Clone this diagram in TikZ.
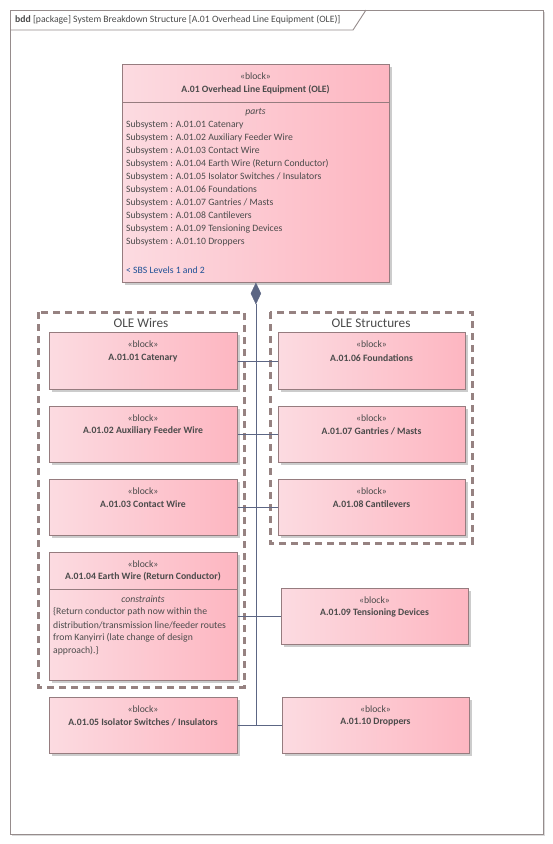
\documentclass[tikz,border=0pt]{standalone}
\usepackage{fontspec}
\setmainfont{Carlito}
\usetikzlibrary{shapes.geometric,shadows}
\definecolor{pinkL}{RGB}{252,219,225}
\definecolor{pinkR}{RGB}{253,182,193}
\definecolor{bordc}{RGB}{150,124,127}
\definecolor{txt}{RGB}{75,75,75}
\definecolor{conn}{RGB}{92,102,132}
\definecolor{grpc}{RGB}{150,130,129}
\definecolor{framec}{RGB}{150,140,140}
\definecolor{linkc}{RGB}{30,80,150}
\tikzset{
  blk/.style={draw=bordc, line width=0.8pt, left color=pinkL, right color=pinkR,
    anchor=north west, inner sep=0pt,
    drop shadow={shadow xshift=2.5pt, shadow yshift=-2.5pt, fill=black!20, opacity=1}},
  stereo/.style={font=\fontsize{9.7}{11}\selectfont, text=txt, inner sep=0pt},
  ttl/.style={font=\bfseries\fontsize{9.7}{11}\selectfont, text=txt, inner sep=0pt},
  body/.style={font=\fontsize{9.7}{11}\selectfont, text=txt, inner sep=0pt, anchor=west},
  grp/.style={draw=grpc, line width=3pt, dash pattern=on 7pt off 5pt},
  grpttl/.style={font=\fontsize{13.2}{15}\selectfont, text=txt, inner sep=0pt},
  wire/.style={draw=conn, line width=0.8pt},
}
\begin{document}
\begin{tikzpicture}[x=1pt,y=-1pt]
\useasboundingbox (0,0) rectangle (552,844);
% frame
\fill[black!15] (12,12) rectangle (545,836);
\draw[framec, line width=0.9pt, fill=white] (10,10) rectangle (543,834);
\draw[framec, line width=0.9pt] (10,30) -- (353,30) -- (366,10);
\node[anchor=west, inner sep=0pt, text=txt, font=\fontsize{9.7}{11}\selectfont] (hdr) at (15,20)
  {\textbf{bdd} [package] System Breakdown Structure [A.01 Overhead Line Equipment (OLE)]};

% groups
\draw[grp] (38,312) rectangle (244,687);
\node[grpttl] (gw) at (141,323) {OLE Wires};
\draw[grp] (270,312) rectangle (472,543);
\node[grpttl] (gs) at (371,323) {OLE Structures};

% main block
\node[blk, minimum width=267pt, minimum height=218pt] (main) at (122,64) {};
\draw[bordc, line width=0.8pt] (122,102) -- (389,102);
\node[stereo] (ms) at (255.5,76) {«block»};
\node[ttl] (mt) at (255.5,90) {A.01 Overhead Line Equipment (OLE)};
\node[stereo, font=\itshape\fontsize{9.7}{11}\selectfont] (mp) at (255.5,112) {parts};
\node[body] (p1) at (126,125) {Subsystem : A.01.01 Catenary};
\node[body] (p2) at (126,138) {Subsystem : A.01.02 Auxiliary Feeder Wire};
\node[body] (p3) at (126,151) {Subsystem : A.01.03 Contact Wire};
\node[body] (p4) at (126,164) {Subsystem : A.01.04 Earth Wire (Return Conductor)};
\node[body] (p5) at (126,177) {Subsystem : A.01.05 Isolator Switches / Insulators};
\node[body] (p6) at (126,190) {Subsystem : A.01.06 Foundations};
\node[body] (p7) at (126,203) {Subsystem : A.01.07 Gantries / Masts};
\node[body] (p8) at (126,216) {Subsystem : A.01.08 Cantilevers};
\node[body] (p9) at (126,229) {Subsystem : A.01.09 Tensioning Devices};
\node[body] (p10) at (126,242) {Subsystem : A.01.10 Droppers};
\node[body, text=linkc] (lnk) at (126,270) {< SBS Levels 1 and 2};

% diamond
\node[diamond, fill=conn, draw=conn, line width=0.4pt, minimum width=10pt, minimum height=21pt, inner sep=0pt, anchor=north] (dia) at (main.south) {};

% left blocks
\node[blk, minimum width=188pt, minimum height=57pt] (cat) at (49,332) {};
\node[stereo] at (143,344) {«block»};
\node[ttl] at (143,358) {A.01.01 Catenary};
\node[blk, minimum width=188pt, minimum height=56pt] (aux) at (49,406) {};
\node[stereo] at (143,418) {«block»};
\node[ttl] at (143,431) {A.01.02 Auxiliary Feeder Wire};
\node[blk, minimum width=188pt, minimum height=56pt] (cw) at (49,479) {};
\node[stereo] at (143,491) {«block»};
\node[ttl] at (143,504) {A.01.03 Contact Wire};
\node[blk, minimum width=188pt, minimum height=128pt] (ew) at (49,552) {};
\draw[bordc, line width=0.8pt] (49,589) -- (237,589);
\node[stereo] at (143,564) {«block»};
\node[ttl] at (143,577) {A.01.04 Earth Wire (Return Conductor)};
\node[stereo, font=\itshape\fontsize{9.7}{11}\selectfont] at (143,599) {constraints};
\node[body] at (53,612) {\{Return conductor path now within the};
\node[body] at (53,625) {distribution/transmission line/feeder routes};
\node[body] at (53,638) {from Kanyirri (late change of design};
\node[body] at (53,651) {approach).\}};
\node[blk, minimum width=188pt, minimum height=56pt] (iso) at (49,697) {};
\node[stereo] at (143,709) {«block»};
\node[ttl] at (143,722) {A.01.05 Isolator Switches / Insulators};

% right blocks
\node[blk, minimum width=187pt, minimum height=57pt] (fnd) at (278,332) {};
\node[stereo] at (371.5,344) {«block»};
\node[ttl] at (371.5,358) {A.01.06 Foundations};
\node[blk, minimum width=187pt, minimum height=56pt] (gan) at (278,406) {};
\node[stereo] at (371.5,418) {«block»};
\node[ttl] at (371.5,431) {A.01.07 Gantries / Masts};
\node[blk, minimum width=187pt, minimum height=56pt] (cant) at (278,479) {};
\node[stereo] at (371.5,491) {«block»};
\node[ttl] at (371.5,504) {A.01.08 Cantilevers};
\node[blk, minimum width=187pt, minimum height=56pt] (ten) at (281,588) {};
\node[stereo] at (374.5,600) {«block»};
\node[ttl] at (374.5,613) {A.01.09 Tensioning Devices};
\node[blk, minimum width=187pt, minimum height=56pt] (drp) at (282,697) {};
\node[stereo] at (375.5,709) {«block»};
\node[ttl] at (375.5,722) {A.01.10 Droppers};

% connectors
\draw[wire] (dia.south) -- (dia.south |- iso.east);
\draw[wire] (cat.east) -- (fnd.west);
\draw[wire] (aux.east) -- (gan.west);
\draw[wire] (cw.east) -- (cant.west);
\draw[wire] (ew.east) -- (ten.west);
\draw[wire] (iso.east) -- (drp.west);
\end{tikzpicture}
\end{document}
